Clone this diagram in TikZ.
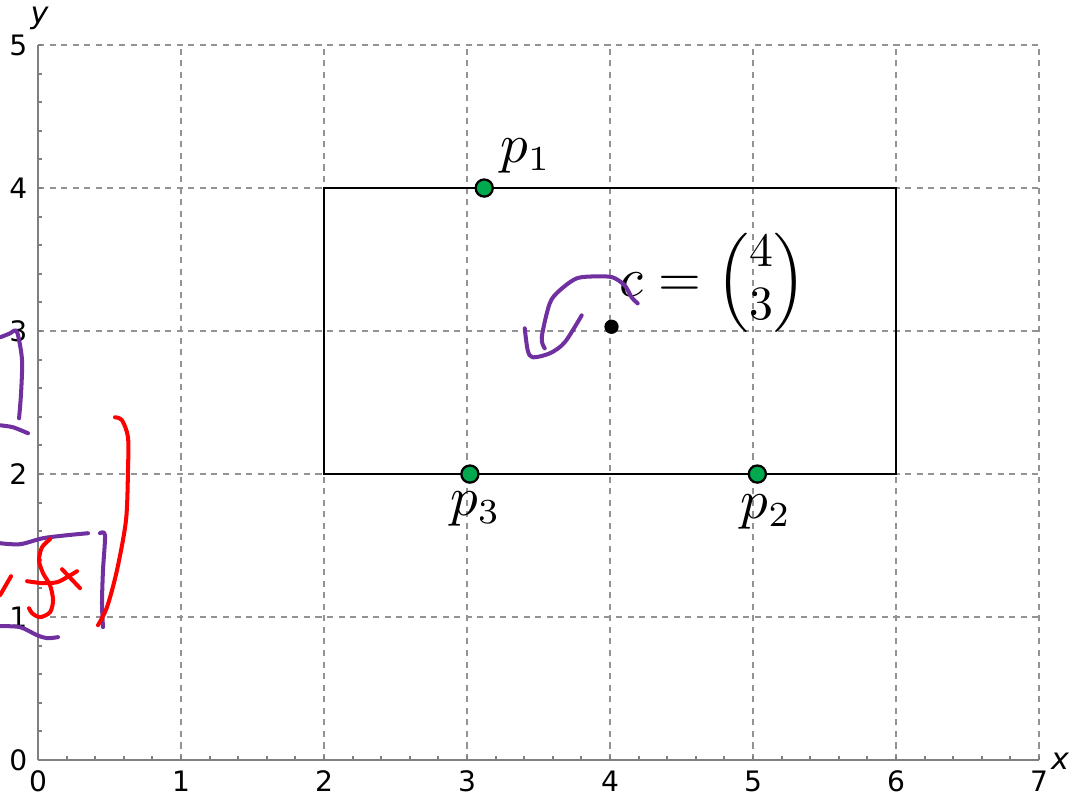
\documentclass[tikz,border=0pt]{standalone}
\usepackage{amsmath}
\usepackage{fontspec}
\usepackage{xcolor}
\usepackage{tikz}
\usetikzlibrary{positioning}

\newfontfamily\tickfont{DejaVu Sans}
\definecolor{ptgreen}{RGB}{0,168,78}
\definecolor{inkpurple}{RGB}{112,48,160}
\definecolor{inkred}{RGB}{255,0,0}
\newcommand{\colvec}[2]{\Bigl(\vcenter{\hbox{\fontsize{9.5}{10.5}\selectfont\begin{tabular}{@{}c@{}}#1\\#2\end{tabular}}}\Bigr)}

\begin{document}
\begin{tikzpicture}[
    gridline/.style={gray!85, line width=0.3pt, dash pattern=on 1.2pt off 1.1pt},
    axisline/.style={gray, line width=0.4pt},
    ticklabel/.style={font=\tickfont\fontsize{5.6}{6}\selectfont, inner sep=0.5pt},
    axislabel/.style={font=\tickfont\itshape\fontsize{6}{7}\selectfont, inner sep=0.5pt},
    ptdot/.style={circle, draw=black, fill=ptgreen, line width=0.45pt, inner sep=0pt, minimum size=1.2mm},
    cdot/.style={circle, fill=black, inner sep=0pt, minimum size=1mm},
    ptlabel/.style={font=\fontsize{10.5}{12}\selectfont, inner sep=0pt},
    ink/.style={line width=0.8pt, line cap=round, line join=round}]
    \useasboundingbox (-0.266,-0.231) rectangle (7.30,5.315);

    % grid and axes
    \draw[gridline] (0,0) grid (7,5);
    \draw[axisline] (0,0) -- (7,0);
    \draw[axisline] (0,0) -- (0,5);
    \foreach \i in {1,...,35}
        \draw[axisline] (\i*0.2,0) -- ++(0,0.03);
    \foreach \i in {1,...,25}
        \draw[axisline] (0,\i*0.2) -- ++(0.03,0);
    \foreach \x in {0,...,7}
        \node[ticklabel, anchor=north] (xt\x) at (\x,-0.05) {\x};
    \foreach \y in {0,...,5}
        \node[ticklabel, anchor=east] (yt\y) at (-0.05,\y) {\y};
    \node[axislabel, anchor=west] (xlab) at (7.06,-0.01) {x};
    \node[axislabel, anchor=south] (ylab) at (0.01,5.08) {y};

    % box and points
    \draw[black, line width=0.35pt] (2,2) rectangle (6,4);
    \node[ptdot] (p1) at (3.12,4) {};
    \node[ptdot] (p3) at (3.02,2) {};
    \node[ptdot] (p2) at (5.03,2) {};
    \node[cdot] (c) at (4.01,3.03) {};

    \node[ptlabel, above right=0.05cm and 0.06cm of p1] (p1lab) {$p_1$};
    \node[ptlabel, below=0.05cm of p3, xshift=0.04cm] (p3lab) {$p_3$};
    \node[ptlabel, below=0.07cm of p2, xshift=0.06cm] (p2lab) {$p_2$};
    \node[ptlabel, anchor=west] (clab) at (4.06,3.34) {$c = \colvec{4}{3}$};

    % hand-drawn ink
    \begin{scope}[x=0.006993cm, y=-0.006993cm, shift={(-38,-760)}]
        \draw[ink, inkpurple] plot[smooth] coordinates {(545,348) (542,337) (550,303) (560,290) (577,278) (597,276) (613,277) (625,285) (632,297) (638,303)};
        \draw[ink, inkpurple] plot[smooth] coordinates {(582,315) (565,342) (550,353) (533,357) (528,350) (525,328)};
        \draw[ink, inkpurple] plot[smooth] coordinates {(0,337) (10,333) (15,330) (18,335) (22,360) (21,393) (19,418)};
        \draw[ink, inkpurple] plot[smooth] coordinates {(0,425) (13,427) (28,433)};
        \draw[ink, inkpurple] plot[smooth] coordinates {(0,543) (20,544) (43,538) (67,535) (88,533)};
        \draw[ink, inkpurple] plot[smooth] coordinates {(100,533) (105,535) (103,570) (102,603) (103,627)};
        \draw[ink, inkpurple] plot[smooth] coordinates {(0,626) (20,627) (37,635) (47,638) (58,637)};
        \draw[ink, inkred] plot[smooth] coordinates {(115,417) (122,420) (128,437) (128,470) (126,520) (117,570) (107,607) (98,625)};
        \draw[ink, inkred] plot[smooth] coordinates {(50,539) (42,547) (39,560) (43,573) (50,585) (53,600) (50,612) (40,617) (32,613) (29,608)};
        \draw[ink, inkred] plot[smooth] coordinates {(27,581) (43,583) (57,582) (67,577) (77,571)};
        \draw[ink, inkred] (62,569) -- (80,588);
        \draw[ink, inkred] (0,595) -- (11,576);
    \end{scope}
\end{tikzpicture}
\end{document}
